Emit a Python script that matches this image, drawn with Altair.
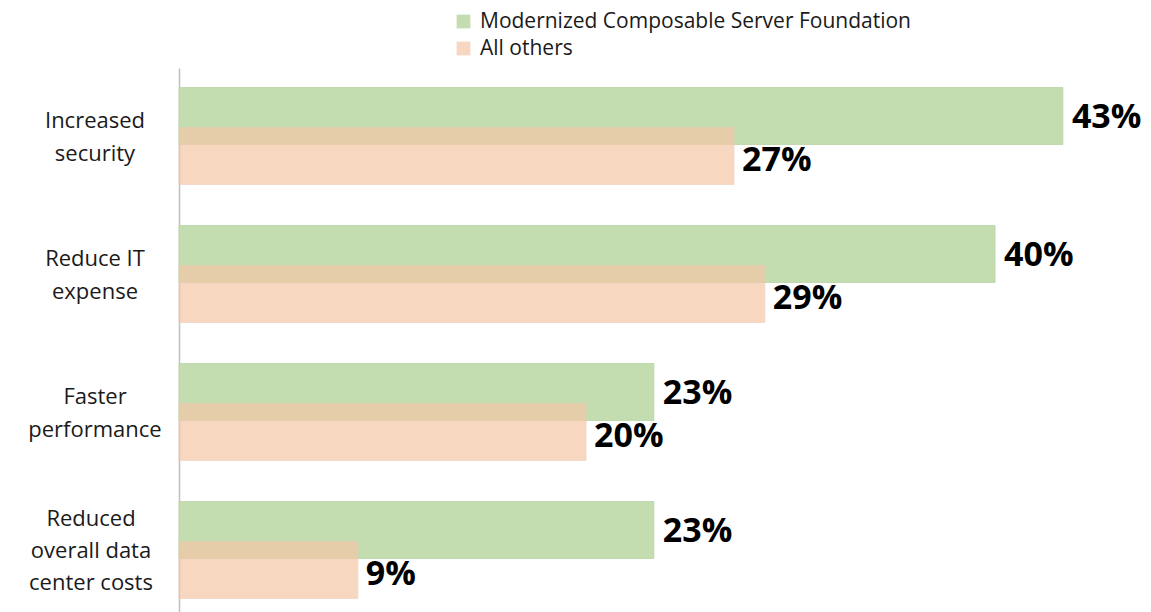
import altair as alt
import pandas as pd

categories = ["Increased\nsecurity", "Reduce IT\nexpense", "Faster\nperformance", "Reduced\noverall data\ncenter costs"]
category_lines = [2, 2, 2, 3]
series_names = ["Modernized Composable Server Foundation", "All others"]
mcsf_values = [43.0, 39.7, 23.1, 23.1]
others_values = [27.0, 28.5, 19.8, 8.7]
mcsf_labels = ["43%", "40%", "23%", "23%"]
others_labels = ["27%", "29%", "20%", "9%"]

green = "#C3DDB0"
peach = "#F4C8A9"
FONT = "Open Sans"

df_m = pd.DataFrame({"category": categories, "value": mcsf_values, "label": mcsf_labels, "series": series_names[0]})
df_o = pd.DataFrame({"category": categories, "value": others_values, "label": others_labels, "series": series_names[1]})
df_c = pd.DataFrame({"category": categories, "nlines": category_lines})

yenc = alt.Y("category:N", sort=categories,
             scale=alt.Scale(range=[0, 552], paddingInner=0, paddingOuter=0),
             axis=alt.Axis(labels=False, ticks=False, title=None, domainColor="#BFBFBF", domainWidth=1.5, grid=False))
xenc = alt.X("value:Q", scale=alt.Scale(domain=[0, 45], nice=False), axis=None)
color = alt.Color("series:N", scale=alt.Scale(domain=series_names, range=[green, peach]),
                  legend=alt.Legend(title=None, orient="none", legendX=274, legendY=-57,
                                    symbolType="square", symbolSize=190, symbolStrokeWidth=0,
                                    labelFont=FONT, labelFontSize=21, labelColor="#1a1a1a",
                                    rowPadding=5, labelOffset=6, labelLimit=700))
opac = alt.Opacity("series:N", scale=alt.Scale(domain=series_names, range=[1.0, 0.72]), legend=None)

bars_m = alt.Chart(df_m).mark_bar(size=57, yOffset=-21, stroke="#B9D3A5", strokeWidth=0.8).encode(
    x=xenc, y=yenc, color=color, opacity=opac)
bars_o = alt.Chart(df_o).mark_bar(size=57, yOffset=19, stroke="#EEC6AE", strokeWidth=0.8).encode(
    x=xenc, y=yenc, color=color, opacity=opac)

txt_m = alt.Chart(df_m).mark_text(align="left", baseline="middle", dx=9, dy=-19, font=FONT,
                                  fontWeight="bold", fontSize=34, color="#000000").encode(
    x=xenc, y=yenc, text="label:N")
txt_o = alt.Chart(df_o).mark_text(align="left", baseline="middle", dx=8, dy=24, font=FONT,
                                  fontWeight="bold", fontSize=34, color="#000000").encode(
    x=xenc, y=yenc, text="label:N")

cat_two = alt.Chart(df_c).transform_filter("datum.nlines == 2").mark_text(
    align="center", baseline="middle", lineBreak="\n", font=FONT, dy=-16.5,
    fontSize=22, lineHeight=33, color="#1a1a1a").encode(
    x=alt.value(-84), y=yenc, text="category:N")
cat_three = alt.Chart(df_c).transform_filter("datum.nlines == 3").mark_text(
    align="center", baseline="middle", lineBreak="\n", font=FONT, dy=-32,
    fontSize=22, lineHeight=32, color="#1a1a1a").encode(
    x=alt.value(-88), y=yenc, text="category:N")

chart = alt.layer(bars_m, bars_o, txt_m, txt_o, cat_two, cat_three).properties(
    width=925, height=544,
    autosize=alt.AutoSizeParams(type="none"),
    padding={"left": 171, "top": 60, "right": 38, "bottom": 0},
).configure_view(stroke=None)

chart.save("out.html", embed_options={"renderer": "svg", "actions": False})
